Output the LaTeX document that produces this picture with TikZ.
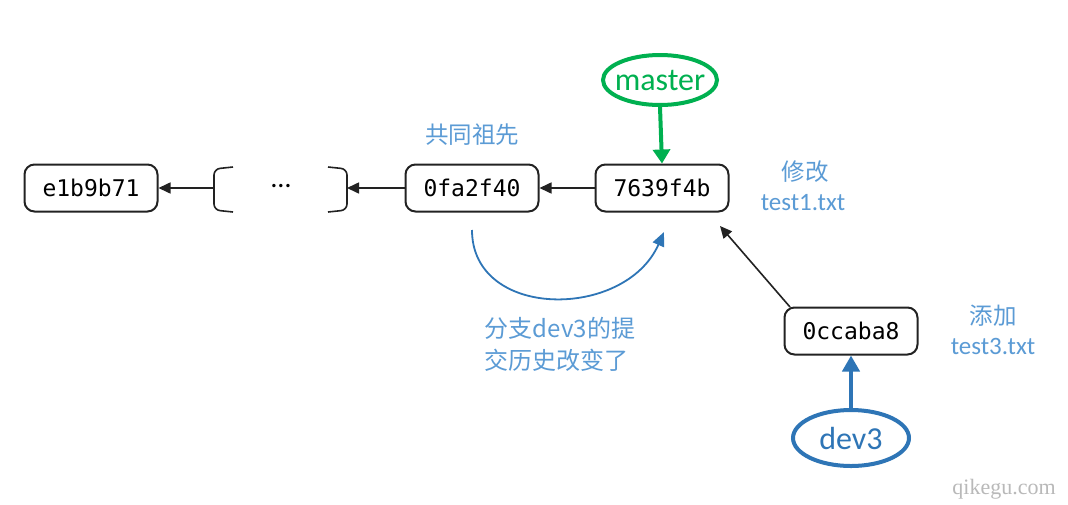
\documentclass[tikz,border=0pt]{standalone}
\usepackage{fontspec}
\setmainfont{Carlito}
\setmonofont{DejaVu Sans Mono}
\newfontfamily\cjk{Noto Sans CJK SC}
\newfontfamily\wmfont{Liberation Serif}
\usetikzlibrary{arrows.meta,shapes.geometric}
\definecolor{gitgreen}{RGB}{0,176,80}
\definecolor{gitblue}{RGB}{46,117,182}
\definecolor{lblblue}{RGB}{91,155,213}
\definecolor{boxline}{RGB}{34,34,34}
\tikzset{
  commit/.style={draw=boxline, line width=2pt, rounded corners=10pt, minimum width=133pt, minimum height=47pt, font=\ttfamily\fontsize{23}{23}\selectfont, fill=white},
  branchg/.style={ellipse, draw=gitgreen, line width=4pt, minimum width=114pt, minimum height=50pt, inner xsep=-7pt, inner ysep=0pt, text=gitgreen, font=\fontsize{32}{32}\selectfont},
  branchb/.style={ellipse, draw=gitblue, line width=4pt, minimum width=116pt, minimum height=56pt, inner sep=0pt, text=gitblue, font=\fontsize{32}{32}\selectfont},
  parent/.style={draw=boxline, line width=1.6pt, -{Triangle[length=12pt,width=11pt]}},
  lbl/.style={text=lblblue, font=\cjk\fontsize{23.5}{28}\selectfont, align=center},
  lbltxt/.style={text=lblblue, font=\fontsize{25}{28}\selectfont},
  bracketline/.style={draw=boxline, line width=1.6pt, rounded corners=6pt}
}
\begin{document}
\begin{tikzpicture}[x=1pt,y=-1pt]
\useasboundingbox (0,0) rectangle (1068,504);
\fill[white] (0,0) rectangle (1068,504);
% commits
\node[commit] (e1) at (91,188) {e1b9b71};
\node[commit] (c0f) at (472,188) {0fa2f40};
\node[commit] (c76) at (662,188) {7639f4b};
\node[commit] (c0c) at (851,331) {0ccaba8};
% ellipsis group
\node[font=\fontsize{28}{28}\selectfont] (dots) at (281,186) {…};
\coordinate (lb) at (214,188);
\coordinate (rb) at (347,188);
\draw[bracketline] (233,167) -- (214,169) -- (214,210) -- (233,212);
\draw[bracketline] (328,167) -- (347,169) -- (347,210) -- (328,212);
% parent arrows
\draw[parent] (c76.west) -- (c0f.east);
\draw[parent] (c0f.west) -- (rb);
\draw[parent] (lb) -- (e1.east);
\coordinate (c0ctl) at (790,307);
\coordinate (c76br) at (720,226);
\draw[parent] (c0ctl) -- (c76br);
% branches
\node[branchg] (master) at (660,80) {master};
\node[branchb] (dev3) at (851,438) {dev3};
\draw[gitgreen, line width=4pt, -{Triangle[length=14pt,width=17pt]}] (master.south) -- (c76.north);
\draw[gitblue, line width=4pt, -{Triangle[length=16pt,width=17pt]}] (dev3.north) -- (c0c.south);
% labels
\node[lbl] (anc) at (472,135) {共同祖先};
\node[lbl] (mod) at (805,172) {修改};
\node[lbltxt] (t1) at (803,203) {test1.txt};
\node[lbl] (add) at (993,316) {添加};
\node[lbltxt] (t3) at (993,346) {test3.txt};
% curved arrow
\coordinate (cs) at (472,230);
\coordinate (ce) at (664,232);
\draw[gitblue, line width=1.8pt, -{Triangle[length=14pt,width=12pt]}] (cs) .. controls (472,320) and (625,320) .. (ce);
\node[text=lblblue, font=\cjk\fontsize{24}{32}\selectfont, align=left] (note) at (560,344) {分支dev3的提\\交历史改变了};
% watermark
\node[text=gray!55, font=\wmfont\fontsize{22}{22}\selectfont] (wm) at (1004,489) {qikegu.com};
\end{tikzpicture}
\end{document}
